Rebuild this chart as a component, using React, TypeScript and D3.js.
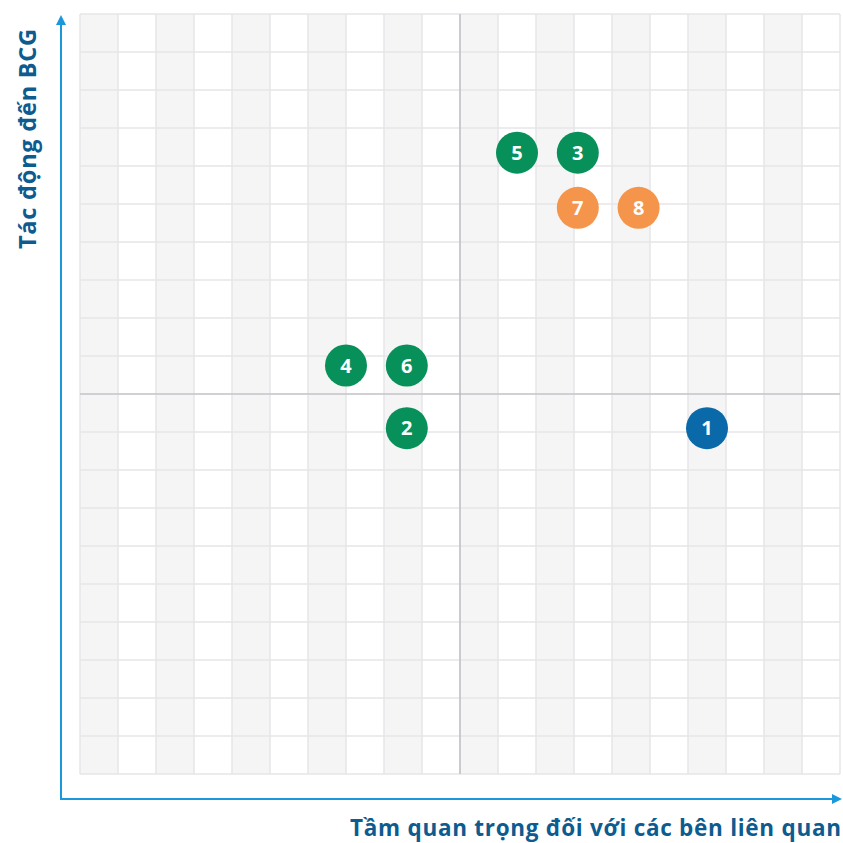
import * as d3 from 'd3';

// Stakeholder matrix items (x = importance to stakeholders, y = impact on BCG)
const itemIds = ['1', '2', '3', '4', '5', '6', '7', '8'];
const itemX = [6.5, -1.4, 3.1, -3.0, 1.5, -1.4, 3.1, 4.7];
const itemY = [-0.9, -0.9, 6.35, 0.75, 6.35, 0.75, 4.9, 4.9];
const itemGroup = ['blue', 'green', 'green', 'green', 'green', 'green', 'orange', 'orange'];

const groupColors: Record<string, string> = {
  blue: '#0a69a8',
  green: '#07905a',
  orange: '#f5954b',
};

const xLabel = 'Tầm quan trọng đối với các bên liên quan';
const yLabel = 'Tác động đến BCG';

const W = 843;
const H = 843;

export default function App() {
  const plot = { left: 80, right: 840, top: 14, bottom: 774 };

  const x = d3.scaleLinear().domain([-10, 10]).range([plot.left, plot.right]);
  const y = d3.scaleLinear().domain([-10, 10]).range([plot.bottom, plot.top]);

  const ticks = d3.range(-10, 11, 1);
  const bands = d3.range(-10, 10, 2); // gray column stripes

  const axisColor = '#1b98dc';
  const labelColor = '#0d5b8f';

  return (
    <svg
      width={W}
      height={H}
      style={{ position: 'absolute', left: 0, top: 0, fontFamily: 'Montserrat, "Open Sans", sans-serif' }}
    >
      <defs>
        <marker id="arrow" viewBox="0 0 10 10" refX="8" refY="5" markerWidth="5" markerHeight="5" orient="auto">
          <path d="M0,0 L10,5 L0,10 z" fill={axisColor} />
        </marker>
      </defs>
      <rect width={W} height={H} fill="#fff" />

      {/* stripes */}
      {bands.map((b) => (
        <rect
          key={'b' + b}
          x={x(b)}
          y={plot.top}
          width={x(b + 1) - x(b)}
          height={plot.bottom - plot.top}
          fill="#f5f5f5"
        />
      ))}

      {/* grid */}
      {ticks.map((t) => (
        <line key={'v' + t} x1={x(t)} x2={x(t)} y1={plot.top} y2={plot.bottom} stroke="#e6e6e8" strokeWidth={1.5} />
      ))}
      {ticks.map((t) => (
        <line key={'h' + t} x1={plot.left} x2={plot.right} y1={y(t)} y2={y(t)} stroke="#e6e6e8" strokeWidth={1.5} />
      ))}

      {/* quadrant lines */}
      <line x1={x(0)} x2={x(0)} y1={plot.top} y2={plot.bottom} stroke="#b4b4bc" strokeWidth={1.2} />
      <line x1={plot.left} x2={plot.right} y1={y(0)} y2={y(0)} stroke="#b4b4bc" strokeWidth={1.2} />

      {/* axes */}
      <line x1={61} x2={61} y1={799} y2={17} stroke={axisColor} strokeWidth={2} markerEnd="url(#arrow)" />
      <line x1={60} x2={840} y1={799} y2={799} stroke={axisColor} strokeWidth={2} markerEnd="url(#arrow)" />

      {/* points */}
      {itemIds.map((id, i) => (
        <g key={id} transform={`translate(${x(itemX[i])},${y(itemY[i])})`}>
          <circle r={21} fill={groupColors[itemGroup[i]]} />
          <text
            textAnchor="middle"
            dy="0.36em"
            fill="#fff"
            fontSize={20}
            fontWeight={700}
            fontFamily='"Open Sans", sans-serif'
          >
            {id}
          </text>
        </g>
      ))}

      {/* axis labels */}
      <text
        x={350}
        y={836}
        textLength={491}
        lengthAdjust="spacing"
        fill={labelColor}
        fontSize={22.5}
        fontWeight={700}
        fontFamily='"Open Sans", sans-serif'
      >
        {xLabel}
      </text>
      <text
        transform="translate(36,249) rotate(-90)"
        textLength={220}
        lengthAdjust="spacing"
        fill={labelColor}
        fontSize={23.5}
        fontWeight={700}
        fontFamily='"Open Sans", sans-serif'
      >
        {yLabel}
      </text>
    </svg>
  );
}
